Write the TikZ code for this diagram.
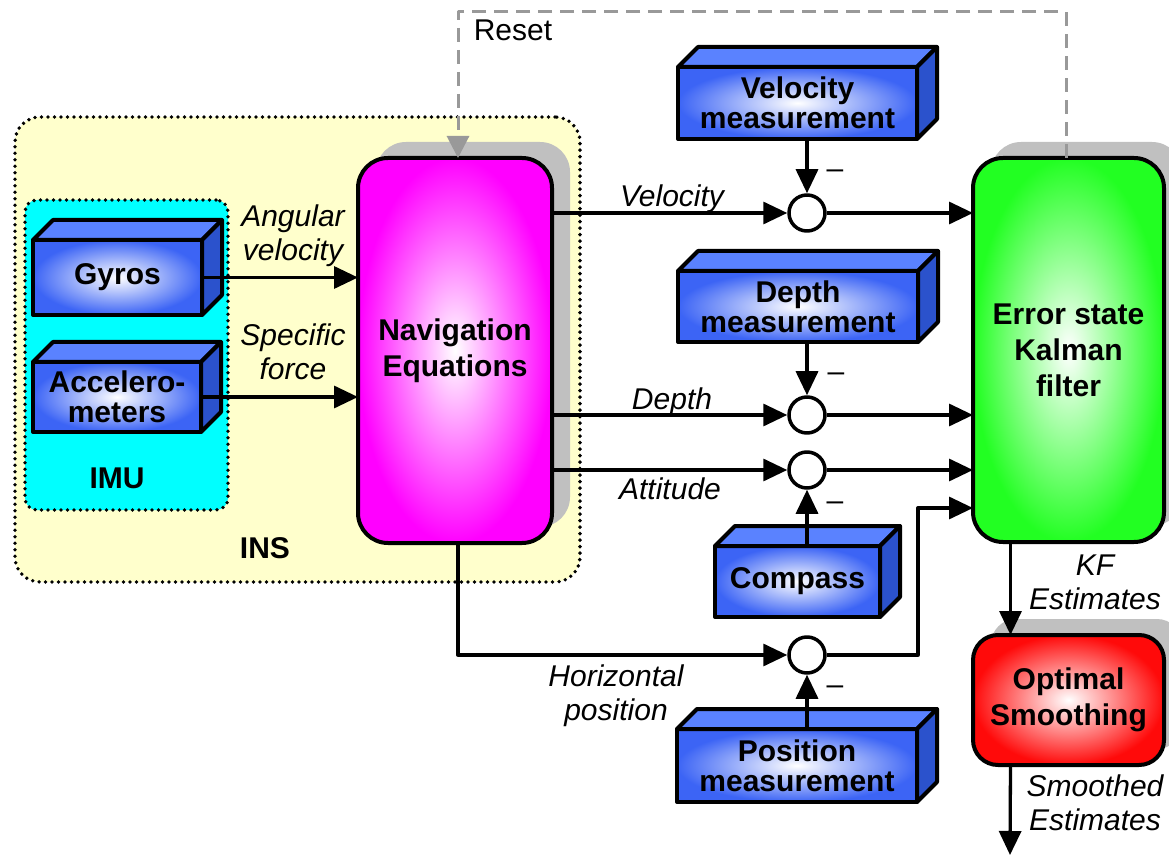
\documentclass[tikz,border=0pt]{standalone}
\usepackage{fontspec}
\setmainfont{Liberation Sans}
\usetikzlibrary{arrows.meta}
\usetikzlibrary{shadows}

\definecolor{insyellow}{HTML}{FFFFCC}
\definecolor{imucyan}{HTML}{00FFFF}
\definecolor{navmagenta}{HTML}{FF00FF}
\definecolor{kfgreen}{HTML}{22FF22}
\definecolor{osred}{HTML}{FF0A0A}
\definecolor{blueface}{HTML}{3C64F5}
\definecolor{bluetop}{HTML}{5A82FF}
\definecolor{blueside}{HTML}{2B52CC}
\definecolor{shadowgray}{HTML}{C0C0C0}
\definecolor{resetgray}{HTML}{999999}

\begin{document}
\begin{tikzpicture}[x=1pt, y=1pt, line join=round,
  font=\fontsize{30}{36}\selectfont,
  arr/.style={-{Triangle[length=24pt,width=22pt]}, line width=3.3pt},
  reset/.style={-{Triangle[length=22pt,width=22pt]}, line width=3pt, resetgray, dash pattern=on 14pt off 8pt},
  lbl/.style={font=\fontsize{30}{34}\selectfont\itshape, align=center, inner sep=0pt},
  title/.style={font=\fontsize{30}{36}\selectfont\bfseries, inner sep=0pt},
  sum/.style={circle, draw, line width=3.5pt, fill=white, minimum size=36pt, inner sep=0pt},
  minus/.style={inner sep=0pt},
  dotbox/.style={draw, line width=3.8pt, line cap=round, dash pattern=on 0pt off 6.5pt, outer sep=0pt},
  cube/.style={draw, line width=4pt, outer sep=0pt, inner sep=0pt, inner color=white, outer color=blueface,
    align=center, font=\fontsize{30}{30}\selectfont\bfseries},
  cubeline/.style={draw, line width=4pt},
  block/.style={draw, line width=4pt, rounded corners=30pt, outer sep=0pt, align=center, inner color=white,
    font=\fontsize{30}{36}\selectfont\bfseries,
    drop shadow={shadow xshift=18pt, shadow yshift=16pt, fill=shadowgray, opacity=1}}]
\useasboundingbox (0,0) rectangle (1169,855);
\clip (0,0) rectangle (1169,855);

% INS and IMU frames
\node[dotbox, fill=insyellow, rounded corners=25pt, minimum width=565, minimum height=465] (ins) at (297.5,505.5) {};
\node[dotbox, fill=imucyan, rounded corners=12pt, minimum width=203, minimum height=310] (imu) at (126.5,500) {};
\node[title] (inslbl) at (265,307) {INS};
\node[title] (imulbl) at (117,377) {IMU};

% main blocks
\node[block, outer color=navmagenta, minimum width=194, minimum height=385] (nav) at (455,504.5) {Navigation\\Equations};
\node[block, outer color=kfgreen, minimum width=191, minimum height=384] (kf) at (1068.5,505) {Error state\\Kalman\\filter};
\node[block, outer color=osred, rounded corners=25pt, minimum width=191, minimum height=130] (os) at (1068.5,155) {Optimal\\Smoothing};

% sensors
\node[cube, minimum width=169, minimum height=75] (gyro) at (117.5,577.5) {Gyros};
\node[cube, minimum width=168, minimum height=70] (accel) at (117,458) {Accelero-\\meters};
\node[cube, minimum width=239, minimum height=72] (velmeas) at (797.5,752) {Velocity\\measurement};
\node[cube, minimum width=240, minimum height=71] (depmeas) at (798,548.5) {Depth\\measurement};
\node[cube, minimum width=165, minimum height=71] (compass) at (797.5,273.5) {Compass};
\node[cube, minimum width=240, minimum height=73] (posmeas) at (797,89.5) {Position\\measurement};
\foreach \b in {gyro,accel,velmeas,depmeas,compass,posmeas} {
  \path[cubeline, fill=bluetop] (\b.north west) -- ++(20,20) -- ([shift={(20,20)}]\b.north east) -- (\b.north east) -- cycle;
  \path[cubeline, fill=blueside] (\b.north east) -- ++(20,20) -- ([shift={(20,20)}]\b.south east) -- (\b.south east) -- cycle;
}

% differences
\node[sum] (sv) at (807,642) {};
\node[sum] (sd) at (807,440) {};
\node[sum] (sa) at (807,385) {};
\node[sum] (sp) at (807,200) {};
\node[minus] (mv) at (835,681) {\textendash};
\node[minus] (md) at (836,478) {\textendash};
\node[minus] (ma) at (835,349) {\textendash};
\node[minus] (mp) at (835,165) {\textendash};

% labels
\node[lbl] (angvel) at (293,619) {Angular\\velocity};
\node[lbl] (spforce) at (293,503.5) {Specific\\force};
\node[lbl] (lvel) at (672,656) {Velocity};
\node[lbl] (ldep) at (672,453) {Depth};
\node[lbl] (latt) at (670,366) {Attitude};
\node[lbl] (lhor) at (616,159.5) {Horizontal\\position};
\node[lbl] (lkf) at (1095,273) {KF\\Estimates};
\node[lbl] (lsm) at (1095,52) {Smoothed\\Estimates};
\node[inner sep=0pt] (lreset) at (513,825) {Reset};

% connectors
\draw[arr] (gyro.east) -- (gyro.east -| nav.west);
\draw[arr] (accel.east) -- (accel.east -| nav.west);
\draw[arr] (nav.east |- sv) -- (sv.west);
\draw[arr] (sv.east) -- (sv -| kf.west);
\draw[arr] (velmeas.south -| sv) -- (sv.north);
\draw[arr] (nav.east |- sd) -- (sd.west);
\draw[arr] (sd.east) -- (sd -| kf.west);
\draw[arr] (depmeas.south -| sd) -- (sd.north);
\draw[arr] (nav.east |- sa) -- (sa.west);
\draw[arr] (sa.east) -- (sa -| kf.west);
\draw[arr] (compass.north -| sa) -- (sa.south);
\draw[arr] ([xshift=3]nav.south) |- (sp.west);
\draw[arr] (posmeas.north -| sp) -- (sp.south);
\coordinate (bend) at (918,347);
\draw[arr] (sp.east) -| (bend) -- (bend -| kf.west);
\draw[arr] ([xshift=-58]kf.south) -- ([xshift=-58]os.north);
\coordinate (out) at (1010,0);
\draw[arr] ([xshift=-58]os.south) -- (out);
\draw[reset] ([xshift=-2.5]kf.north) -- ++(0,146) -| ([xshift=3]nav.north);
\end{tikzpicture}
\end{document}
